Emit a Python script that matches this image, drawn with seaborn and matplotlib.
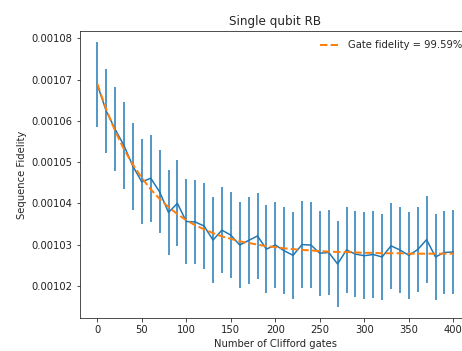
import numpy as np
import pandas as pd
import matplotlib
matplotlib.use("Agg")
import matplotlib.pyplot as plt
import seaborn as sns
from matplotlib.ticker import FormatStrFormatter

# number of Clifford gates per sequence
n_cliffords = list(range(0, 401, 10))

# mean sequence fidelity (units of 1e-5)
fidelity_mean = [
    106.88, 106.24, 105.80, 105.40, 104.90, 104.52, 104.61, 104.28, 103.78, 104.00,
    103.56, 103.55, 103.45, 103.11, 103.35, 103.23, 102.99, 103.10, 103.21, 102.89,
    102.99, 102.85, 102.74, 103.00, 102.99, 102.79, 102.81, 102.53, 102.87, 102.77,
    102.73, 102.76, 102.70, 102.97, 102.87, 102.74, 102.88, 103.12, 102.70, 102.81,
    102.82,
]

# standard deviation of sequence fidelity (units of 1e-5)
fidelity_std = [
    1.04, 1.03, 1.02, 1.05, 1.05, 1.03, 1.05, 1.01, 1.03, 1.04,
    1.02, 1.02, 1.04, 1.04, 1.05, 1.05, 1.04, 1.05, 1.04, 1.06,
    1.05, 1.06, 1.05, 1.05, 1.04, 1.03, 1.04, 1.04, 1.05, 1.05,
    1.05, 1.05, 1.05, 1.05, 1.05, 1.05, 1.03, 1.05, 1.05, 1.01,
    1.03,
]

# exponential decay fit (units of 1e-5)
fit_values = [
    106.90, 106.28, 105.76, 105.31, 104.94, 104.62, 104.34, 104.11, 103.91, 103.74,
    103.59, 103.47, 103.37, 103.28, 103.20, 103.14, 103.08, 103.04, 103.00, 102.96,
    102.94, 102.91, 102.89, 102.87, 102.86, 102.84, 102.83, 102.82, 102.82, 102.81,
    102.80, 102.80, 102.79, 102.79, 102.79, 102.78, 102.78, 102.78, 102.78, 102.78,
    102.78,
]

gate_fidelity = 99.59

df = pd.DataFrame({
    "n": n_cliffords,
    "mean": np.array(fidelity_mean) * 1e-5,
    "std": np.array(fidelity_std) * 1e-5,
    "fit": np.array(fit_values) * 1e-5,
})

sns.set_style("ticks")
plt.rcParams["font.family"] = ["DejaVu Sans"]

fig = plt.figure(figsize=(462 / 72, 351 / 72), dpi=72)
ax = fig.add_axes([79.5 / 462, 33 / 351, 391.6 / 462, 287 / 351])

ax.errorbar(df["n"], df["mean"], yerr=df["std"], fmt="none",
            ecolor="#1f77b4", elinewidth=1.5)
sns.lineplot(data=df, x="n", y="mean", ax=ax, color="#1f77b4", linewidth=1.5)
sns.lineplot(data=df, x="n", y="fit", ax=ax, color="#ff7f0e", linewidth=2,
             linestyle="--", label=f"Gate fidelity = {gate_fidelity:.2f}%")

ax.set_xlim(-20, 420)
ax.set_ylim(0.0010122, 0.0010818)
ax.set_xticks(range(0, 401, 50))
ax.yaxis.set_major_formatter(FormatStrFormatter("%.5f"))
ax.tick_params(labelsize=10, length=3.5, width=0.8, colors="#222222")
for s in ax.spines.values():
    s.set_linewidth(0.8)

ax.set_title("Single qubit RB", fontsize=12)
ax.set_xlabel("Number of Clifford gates", fontsize=10)
ax.set_ylabel("Sequence Fidelity", fontsize=10)
ax.legend(loc="upper right", frameon=False, fontsize=10)

fig.savefig("out.png", dpi=72)
